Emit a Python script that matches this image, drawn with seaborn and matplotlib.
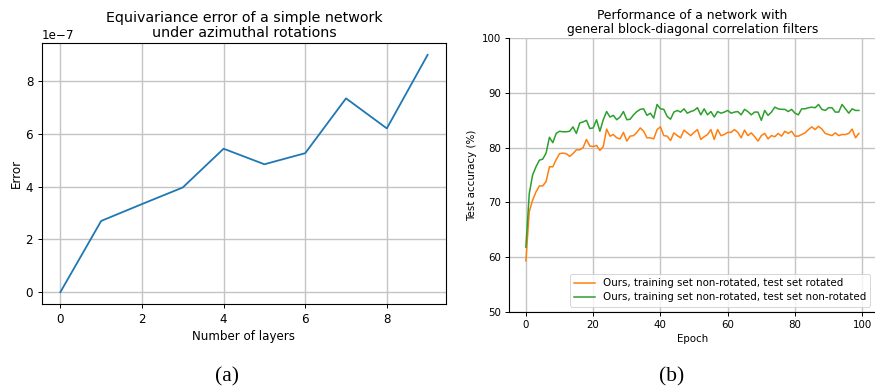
import matplotlib
matplotlib.use("Agg")
import matplotlib.pyplot as plt
import seaborn as sns
import numpy as np
import pandas as pd

# (a) equivariance error vs number of layers
layers = [0, 1, 2, 3, 4, 5, 6, 7, 8, 9]
error = [0.0, 2.70e-7, 3.34e-7, 3.97e-7, 5.44e-7, 4.85e-7, 5.27e-7, 7.35e-7, 6.21e-7, 9.0e-7]

# (b) test accuracy per epoch
rotated = [59.3, 68.3, 70.4, 71.9, 73.0, 73.0, 73.8, 76.5, 76.5, 77.8,
           78.9, 79.0, 78.9, 78.4, 78.9, 79.6, 79.6, 80.0, 81.5, 80.3,
           80.2, 80.4, 79.5, 80.2, 83.4, 82.1, 82.4, 81.8, 81.6, 82.8,
           81.2, 82.1, 82.2, 82.8, 83.6, 83.0, 81.8, 81.8, 81.6, 83.3,
           83.8, 82.2, 82.1, 81.3, 82.7, 82.2, 81.8, 83.2, 82.7, 82.2,
           82.8, 83.3, 81.5, 82.0, 82.4, 83.3, 81.5, 83.3, 82.2, 82.4,
           82.8, 82.8, 83.3, 82.8, 81.8, 83.2, 82.2, 82.7, 82.0, 81.2,
           82.2, 82.6, 81.6, 82.2, 82.0, 82.6, 82.1, 83.0, 82.6, 83.0,
           82.1, 82.1, 82.4, 82.7, 83.3, 83.8, 83.3, 83.9, 83.4, 82.6,
           82.4, 82.2, 82.7, 82.2, 82.4, 82.4, 82.6, 83.4, 81.8, 82.6]
non_rotated = [61.8, 71.6, 75.0, 76.5, 77.7, 77.9, 79.0, 81.9, 80.9, 82.6,
               83.0, 82.9, 82.9, 83.0, 83.8, 82.6, 84.5, 84.7, 85.0, 83.5,
               83.6, 85.1, 83.0, 85.1, 86.6, 85.6, 85.9, 85.1, 85.6, 86.6,
               85.1, 85.2, 86.0, 86.6, 87.0, 87.1, 85.9, 86.3, 85.4, 87.9,
               87.1, 87.0, 85.7, 85.2, 86.5, 86.8, 86.5, 87.1, 86.3, 86.6,
               86.8, 87.3, 86.0, 87.1, 86.0, 86.6, 85.6, 86.6, 86.3, 86.5,
               86.8, 86.3, 86.5, 86.6, 86.0, 87.0, 86.6, 86.0, 86.5, 86.5,
               85.0, 86.8, 85.9, 86.5, 87.4, 87.1, 87.0, 87.0, 86.6, 87.0,
               86.3, 86.0, 87.1, 87.1, 87.3, 87.4, 87.3, 87.9, 87.0, 86.8,
               87.3, 87.3, 86.5, 86.5, 87.9, 87.1, 86.3, 87.1, 86.8, 86.8]
epochs = list(range(len(rotated)))
label_rot = "Ours, training set non-rotated, test set rotated"
label_non = "Ours, training set non-rotated, test set non-rotated"

plt.rcParams["font.family"] = "DejaVu Sans"
grid_kw = dict(color="#c4c4c4", linewidth=1.0)

fig = plt.figure(figsize=(8.75, 3.87), dpi=100)

# ---- left panel
ax1 = fig.add_axes([0.048, 0.2145, 0.4617, 0.6744])
sns.lineplot(x=layers, y=error, ax=ax1, color="#1f77b4", linewidth=1.3)
ax1.set_xlim(-0.45, 9.45)
ax1.set_ylim(-0.45e-7, 9.45e-7)
ax1.set_xticks([0, 2, 4, 6, 8])
ax1.set_yticks([0, 2e-7, 4e-7, 6e-7, 8e-7])
ax1.grid(True, **grid_kw)
ax1.set_axisbelow(True)
ax1.tick_params(labelsize=8.6, length=2.8, width=0.7)
ax1.yaxis.get_offset_text().set_fontsize(8.6)
ax1.set_xlabel("Number of layers", fontsize=8.6, labelpad=3)
ax1.set_ylabel("Error", fontsize=8.6, labelpad=2)
ax1.set_title("Equivariance error of a simple network\nunder azimuthal rotations",
              fontsize=10.3, pad=4, linespacing=1.1)
for s in ax1.spines.values():
    s.set_linewidth(0.8)

# ---- right panel
df = pd.DataFrame({
    "Epoch": epochs * 2,
    "acc": rotated + non_rotated,
    "run": [label_rot] * len(rotated) + [label_non] * len(non_rotated),
})
ax2 = fig.add_axes([0.582, 0.1946, 0.4186, 0.7065])
sns.lineplot(data=df, x="Epoch", y="acc", hue="run", ax=ax2,
             palette={label_rot: "#ff7f0e", label_non: "#2ca02c"},
             linewidth=1.1)
ax2.set_xlim(-4.95, 103.95)
ax2.set_ylim(50, 100)
ax2.set_xticks([0, 20, 40, 60, 80, 100])
ax2.set_yticks([50, 60, 70, 80, 90, 100])
ax2.grid(True, **grid_kw)
ax2.set_axisbelow(True)
ax2.tick_params(labelsize=7.4, length=2.6, width=0.7)
ax2.set_xlabel("Epoch", fontsize=7.4, labelpad=3)
ax2.set_ylabel("Test accuracy (%)", fontsize=7.4, labelpad=3)
ax2.set_title("Performance of a network with\ngeneral block-diagonal correlation filters",
              fontsize=8.9, pad=4, linespacing=1.1)
sns.despine(ax=ax2)
for s in ax2.spines.values():
    s.set_linewidth(0.8)
leg = ax2.legend(loc="lower right", fontsize=7.4, frameon=True,
                 borderpad=0.4, handlelength=2.0, labelspacing=0.4)
leg.get_frame().set_edgecolor("#cccccc")
leg.get_frame().set_linewidth(0.7)

# captions
fig.text(227 / 875, 1 - 377 / 387, "(a)", ha="center", va="center",
         fontsize=15.5, family="Liberation Serif")
fig.text(672 / 875, 1 - 377 / 387, "(b)", ha="center", va="center",
         fontsize=15.5, family="Liberation Serif")

fig.savefig("out.png", dpi=100)
